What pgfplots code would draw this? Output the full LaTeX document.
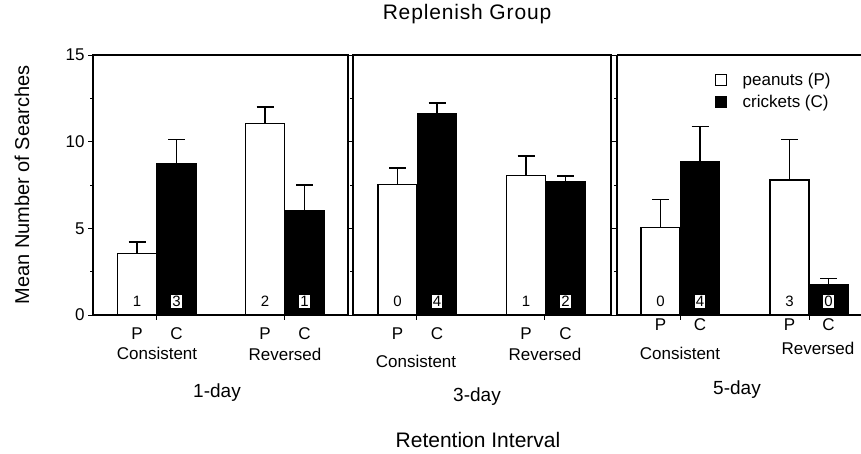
\documentclass[border=0pt]{standalone}
\usepackage{pgfplots}
\pgfplotsset{compat=1.18}
\usepackage{fontspec}
\setmainfont{Liberation Sans}
\newfontfamily\widefont{Liberation Sans}[LetterSpace=4]
\newcommand{\fs}[1]{\fontsize{#1}{#1}\selectfont}
\begin{document}
\begin{tikzpicture}[x=1pt,y=1pt]
\useasboundingbox (0pt,0pt) rectangle (861pt,454pt);
\pgfplotsset{
  panel/.style={
    scale only axis, height=260pt, ymin=0, ymax=15, xmin=0,
    clip=false,
    axis line style={line width=1.1pt},
    ytick={0,5,10,15}, minor ytick={2.5,7.5,12.5}, ytick pos=left,
    xtick={63.5,191.5}, xticklabels={}, xtick pos=bottom,
    tick align=outside, major tick length=5pt, minor tick length=3pt,
    every tick/.style={black, line width=0.9pt},
    /pgf/number format/assume math mode=true,
    yticklabel style={font=\fs{17}},
  },
  pbar/.style={ybar, bar width=39, bar shift=0pt, fill=white, draw=black, line width=1.1pt,
    error bars/.cd, y dir=plus, y explicit,
    error bar style={line width=1.1pt, black},
    error mark options={rotate=90, mark size=8.5pt, line width=1.1pt, black}},
  cbar/.style={ybar, bar width=39, bar shift=0pt, fill=black, draw=black, line width=1.1pt,
    error bars/.cd, y dir=plus, y explicit,
    error bar style={line width=1.1pt, black},
    error mark options={rotate=90, mark size=8.5pt, line width=1.1pt, black}},
  pcount/.style={only marks, mark=none, point meta=explicit symbolic,
    nodes near coords, nodes near coords align={center},
    every node near coord/.append style={font=\fs{15}, anchor=center, inner sep=1pt}},
  ccount/.style={only marks, mark=none, point meta=explicit symbolic,
    nodes near coords, nodes near coords align={center},
    every node near coord/.append style={font=\fs{15}, anchor=center, fill=white, inner sep=1.3pt}},
}
% Panel 1: 1-day
\begin{axis}[panel, at={(93pt,139pt)}, anchor=origin, width=255pt, xmax=255]
\addplot[pbar] coordinates {(44,3.56) +- (0,0.65) (172,11.06) +- (0,0.94)};
\addplot[cbar] coordinates {(83.5,8.75) +- (0,1.36) (211.5,6.02) +- (0,1.48)};
\addplot[pcount] coordinates {(44,0.8)[1] (172,0.8)[2]};
\addplot[ccount] coordinates {(83.5,0.8)[3] (211.5,0.8)[1]};
\node[font=\fs{17}] at (axis cs:44,-1.05) {P};
\node[font=\fs{17}] at (axis cs:83.5,-1.05) {C};
\node[font=\fs{17}] at (axis cs:172,-1.05) {P};
\node[font=\fs{17}] at (axis cs:211.5,-1.05) {C};
\node[font=\fs{17}] at (axis cs:64,-2.2) {Consistent};
\node[font=\fs{17}] at (axis cs:192,-2.3) {Reversed};
\end{axis}
% Panel 2: 3-day
\begin{axis}[panel, at={(353pt,139pt)}, anchor=origin, width=258pt, xmax=258, yticklabels={}]
\addplot[pbar] coordinates {(44.5,7.54) +- (0,0.94) (173,8.04) +- (0,1.13)};
\addplot[cbar] coordinates {(84,11.6) +- (0,0.63) (212.5,7.71) +- (0,0.31)};
\addplot[pcount] coordinates {(44.5,0.8)[0] (173,0.8)[1]};
\addplot[ccount] coordinates {(84,0.8)[4] (212.5,0.8)[2]};
\node[font=\fs{17}] at (axis cs:44.5,-1.05) {P};
\node[font=\fs{17}] at (axis cs:84,-1.05) {C};
\node[font=\fs{17}] at (axis cs:173,-1.05) {P};
\node[font=\fs{17}] at (axis cs:212.5,-1.05) {C};
\node[font=\fs{17}] at (axis cs:63,-2.65) {Consistent};
\node[font=\fs{17}] at (axis cs:192,-2.3) {Reversed};
\end{axis}
% Panel 3: 5-day
\begin{axis}[panel, at={(617pt,139pt)}, anchor=origin, width=244pt, xmax=244,
  yticklabels={}, separate axis lines, axis x line*=box, axis y line*=left,
  xtick={63,192}, ytick pos=left,
  legend style={at={(axis cs:98,14.1)}, anchor=north west, draw=none, fill=none,
    font=\fs{17}, row sep=4.5pt, inner sep=0pt},
  legend cell align=left,
  legend image code/.code={\draw[#1, line width=0.9pt, draw=black] (0pt,-5.5pt) rectangle (11pt,5.5pt); \path[draw=none, fill=none] (0pt,0pt) -- (25pt,0pt);}]
\addplot[pbar] coordinates {(43.5,5.04) +- (0,1.61) (172.5,7.79) +- (0,2.36)};
\addlegendentry{peanuts (P)}
\addplot[cbar] coordinates {(83,8.87) +- (0,1.98) (211.5,1.73) +- (0,0.35)};
\addlegendentry{crickets (C)}
\addplot[pcount, forget plot] coordinates {(43.5,0.8)[0] (172.5,0.8)[3]};
\addplot[ccount, forget plot] coordinates {(83,0.8)[4] (211.5,0.8)[0]};
\node[font=\fs{17}] at (axis cs:43.5,-0.55) {P};
\node[font=\fs{17}] at (axis cs:83,-0.55) {C};
\node[font=\fs{17}] at (axis cs:172.5,-0.55) {P};
\node[font=\fs{17}] at (axis cs:211.5,-0.55) {C};
\node[font=\fs{17}] at (axis cs:63,-2.2) {Consistent};
\node[font=\fs{17}] at (axis cs:201,-1.9) {Reversed};
\end{axis}
% Titles
\node[font=\widefont\fs{21}] at (467pt,440pt) {Replenish Group};
\node[font=\fs{21}] at (478pt,14pt) {Retention Interval};
\node[font=\fs{20}, rotate=90] at (22pt,269pt) {Mean Number of Searches};
\node[font=\fs{19}] at (217pt,61pt) {1-day};
\node[font=\fs{19}] at (477pt,57pt) {3-day};
\node[font=\fs{19}] at (737pt,64pt) {5-day};
\end{tikzpicture}
\end{document}
